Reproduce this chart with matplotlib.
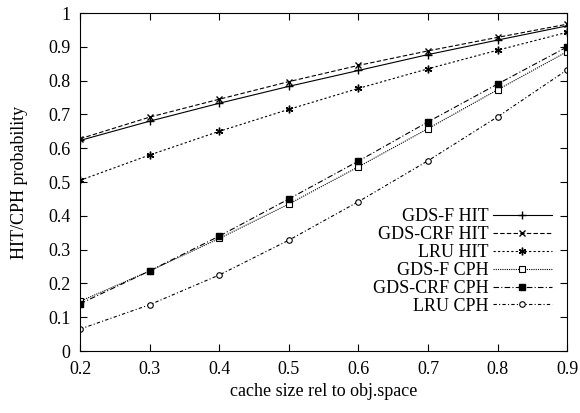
import matplotlib
matplotlib.use('Agg')
import matplotlib.pyplot as plt

plt.rcParams['font.family'] = 'Liberation Serif'

# cache size (fraction of object space)
x = [0.2, 0.3, 0.4, 0.5, 0.6, 0.7, 0.8, 0.9]

gdsf_hit = [0.623, 0.680, 0.733, 0.783, 0.830, 0.877, 0.920, 0.962]
gdscrf_hit = [0.628, 0.692, 0.745, 0.797, 0.845, 0.888, 0.928, 0.967]
lru_hit = [0.505, 0.580, 0.650, 0.715, 0.777, 0.835, 0.890, 0.943]
gdsf_cph = [0.147, 0.237, 0.333, 0.435, 0.545, 0.658, 0.773, 0.886]
gdscrf_cph = [0.140, 0.237, 0.340, 0.450, 0.562, 0.678, 0.790, 0.900]
lru_cph = [0.065, 0.137, 0.225, 0.328, 0.442, 0.563, 0.693, 0.832]

fig = plt.figure(figsize=(5.8, 4.13), dpi=100)
ax = fig.add_axes([0.138, 0.150, 0.840, 0.8185])

lw = 0.8
ax.plot(x, gdsf_hit, color='black', lw=lw, ls='-', marker='+', ms=5.5, label='GDS-F HIT')
ax.plot(x, gdscrf_hit, color='black', lw=lw, ls=(0, (4, 2)), marker='x', ms=4.5, label='GDS-CRF HIT')
ax.plot(x, lru_hit, color='black', lw=lw, ls=(0, (2, 2)), marker=(6, 2, 0), ms=5.5, label='LRU HIT')
ax.plot(x, gdsf_cph, color='black', lw=lw, ls=(0, (1, 1)), marker='s', ms=4, mfc='white', mew=0.8, label='GDS-F CPH')
ax.plot(x, gdscrf_cph, color='black', lw=lw, ls=(0, (5, 2, 1, 2)), marker='s', ms=5, label='GDS-CRF CPH')
ax.plot(x, lru_cph, color='black', lw=lw, ls=(0, (3, 2, 1, 2)), marker='o', ms=4, mfc='white', mew=0.8, label='LRU CPH')

ax.set_xlim(0.2, 0.9)
ax.set_ylim(0, 1)
ax.set_xticks([0.2, 0.3, 0.4, 0.5, 0.6, 0.7, 0.8, 0.9])
ax.set_yticks([0, 0.1, 0.2, 0.3, 0.4, 0.5, 0.6, 0.7, 0.8, 0.9, 1])
ax.set_yticklabels(['0', '0.1', '0.2', '0.3', '0.4', '0.5', '0.6', '0.7', '0.8', '0.9', '1'])
ax.tick_params(direction='in', top=True, right=True, labelsize=13, length=5, pad=7)
ax.set_xlabel('cache size rel to obj.space', fontsize=13)
ax.set_ylabel('HIT/CPH probability', fontsize=13, labelpad=14)

# labels sit to the left of the handles, right-aligned
ax.legend(loc='lower right', bbox_to_anchor=(0.995, 0.07), frameon=False, markerfirst=False,
          fontsize=13, handlelength=3.3, handletextpad=0.2, labelspacing=0.05, borderaxespad=0.3)

fig.savefig('out.png', dpi=100)
